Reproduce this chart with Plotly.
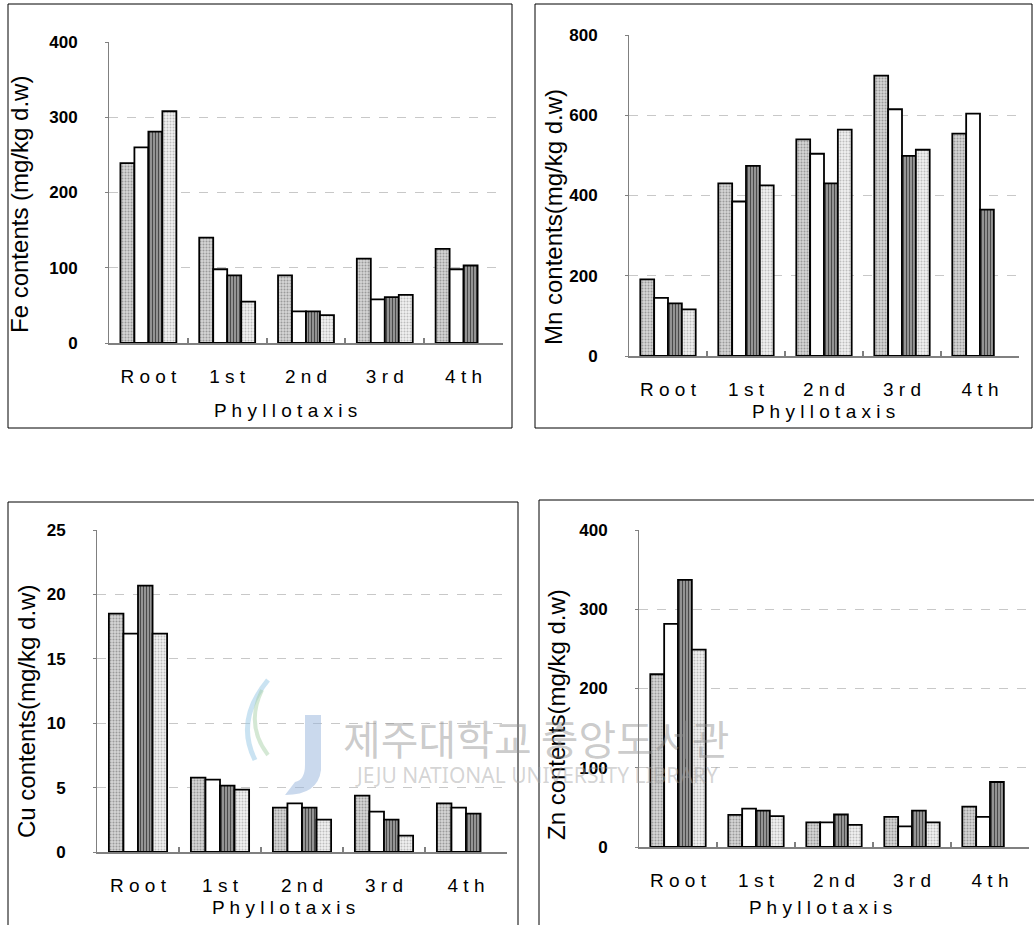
import plotly.graph_objects as go

# ---------------- data ----------------
categories = ["Root", "1st", "2nd", "3rd", "4th"]
series_names = ["S1", "S2", "S3", "S4"]

fe_s1 = [239, 140, 90, 112, 125]
fe_s2 = [260, 98, 42, 58, 98]
fe_s3 = [281, 90, 42, 61, 103]
fe_s4 = [308, 55, 37, 64, None]

mn_s1 = [191, 430, 540, 699, 554]
mn_s2 = [145, 385, 504, 615, 604]
mn_s3 = [131, 474, 430, 499, 365]
mn_s4 = [116, 425, 564, 514, None]

cu_s1 = [18.5, 5.77, 3.44, 4.37, 3.78]
cu_s2 = [16.95, 5.62, 3.78, 3.13, 3.44]
cu_s3 = [20.68, 5.15, 3.44, 2.51, 2.98]
cu_s4 = [16.95, 4.84, 2.51, 1.27, None]

zn_s1 = [218, 40.5, 31, 38, 51]
zn_s2 = [281.6, 48.5, 31, 26, 38]
zn_s3 = [337, 46, 41, 46, 82]
zn_s4 = [249, 39, 28, 31, None]

fe_ticks = [0, 100, 200, 300, 400]
mn_ticks = [0, 200, 400, 600, 800]
cu_ticks = [0, 5, 10, 15, 20, 25]
zn_ticks = [0, 100, 200, 300, 400]

y_titles = ["Fe contents (mg/kg d.w)", "Mn contents(mg/kg d.w)",
            "Cu contents(mg/kg d.w)", "Zn contents(mg/kg d.w)"]
x_title = "Phyllotaxis"

# ---------------- layout helpers ----------------
W, H = 1034, 925


def px(x):
    return x / W


def py(y):
    return 1 - y / H


FONT = "Liberation Sans, Arial, sans-serif"

styles = [
    dict(color="#cccccc", pattern=dict(shape=".", fgcolor="#9a9a9a", bgcolor="#d6d6d6", size=3, solidity=0.35)),
    dict(color="#ffffff"),
    dict(color="#8a8a8a", pattern=dict(shape="|", fgcolor="#4a4a4a", bgcolor="#a4a4a4", size=3, solidity=0.45)),
    dict(color="#ececec", pattern=dict(shape=".", fgcolor="#bdbdbd", bgcolor="#f2f2f2", size=3, solidity=0.35)),
]

panels = [
    dict(data=[fe_s1, fe_s2, fe_s3, fe_s4], ticks=fe_ticks, x0=109, x1=503, ytop=42, ybot=343,
         ytitle=(20, 205), xtitle=(285, 410), box=(8, 4, 512, 428)),
    dict(data=[mn_s1, mn_s2, mn_s3, mn_s4], ticks=mn_ticks, x0=629, x1=1019, ytop=35, ybot=356,
         ytitle=(553, 217), xtitle=(823, 411), box=(535, 4, 1032, 428)),
    dict(data=[cu_s1, cu_s2, cu_s3, cu_s4], ticks=cu_ticks, x0=97, x1=507, ytop=530, ybot=852,
         ytitle=(26, 712), xtitle=(283, 907), box=(8, 502, 518, 940)),
    dict(data=[zn_s1, zn_s2, zn_s3, zn_s4], ticks=zn_ticks, x0=639, x1=1029, ytop=530, ybot=847,
         ytitle=(556, 715), xtitle=(820, 907), box=(539, 500, 1045, 940)),
]

fig = go.Figure()
layout = dict(
    template="none",
    width=W, height=H, margin=dict(l=0, r=0, t=0, b=0, pad=0, autoexpand=False),
    paper_bgcolor="white", plot_bgcolor="white",
    showlegend=False, barmode="group", bargap=0.29, bargroupgap=0,
    font=dict(family=FONT, color="black"),
)
annotations = []
shapes = []

for i, p in enumerate(panels):
    n = i + 1
    xa = "x" if n == 1 else f"x{n}"
    ya = "y" if n == 1 else f"y{n}"
    for k, vals in enumerate(p["data"]):
        st = styles[k]
        marker = dict(color=st["color"], line=dict(color="black", width=1.8))
        if "pattern" in st:
            marker["pattern"] = st["pattern"]
        fig.add_trace(go.Bar(x=categories, y=vals, name=series_names[k], marker=marker,
                             xaxis=xa, yaxis=ya, hoverinfo="skip"))
    xkey = "xaxis" if n == 1 else f"xaxis{n}"
    ykey = "yaxis" if n == 1 else f"yaxis{n}"
    layout[xkey] = dict(
        domain=[px(p["x0"]), px(p["x1"])], anchor=ya, automargin=False,
        type="category", categoryorder="array", categoryarray=categories,
        tickvals=categories, ticktext=[" ".join(c) for c in categories],
        tickson="boundaries", ticks="inside", ticklen=5, tickcolor="#808080", tickwidth=2,
        showline=True, linecolor="#808080", linewidth=2,
        showgrid=False, zeroline=False,
        tickfont=dict(size=19, family=FONT, color="black"),
        ticklabelstandoff=15,
    )
    layout[ykey] = dict(
        domain=[py(p["ybot"]), py(p["ytop"])], anchor=xa, automargin=False,
        range=[0, p["ticks"][-1]], tickvals=p["ticks"],
        ticks="outside", ticklen=3, tickcolor="#808080", tickwidth=1,
        showline=True, linecolor="#808080", linewidth=1,
        showgrid=True, gridcolor="#c8c8c8", griddash="dash", gridwidth=1,
        zeroline=False,
        tickfont=dict(size=17, family=FONT, color="black", weight="bold"),
        ticklabelstandoff=24,
    )
    tx, ty = p["ytitle"]
    annotations.append(dict(text=y_titles[i], x=px(tx), y=py(ty), xref="paper", yref="paper",
                            textangle=-90, showarrow=False, xanchor="center", yanchor="middle",
                            font=dict(size=24, family=FONT, color="black")))
    ax_, ay_ = p["xtitle"]
    annotations.append(dict(text=" ".join(x_title), x=px(ax_), y=py(ay_), xref="paper", yref="paper",
                            showarrow=False, xanchor="center", yanchor="middle",
                            font=dict(size=19, family=FONT, color="black")))
    bx0, by0, bx1, by1 = p["box"]
    shapes.append(dict(type="rect", xref="paper", yref="paper",
                       x0=px(bx0), x1=px(bx1), y0=py(by1), y1=py(by0),
                       line=dict(color="black", width=1), fillcolor="rgba(0,0,0,0)", layer="above"))

# watermark (library stamp)
annotations.append(dict(text="제주대학교 중앙도서관", x=px(536), y=py(737), xref="paper", yref="paper",
                        showarrow=False, xanchor="center", yanchor="middle",
                        font=dict(size=41, family="Noto Sans CJK KR", color="rgba(140,140,140,0.45)")))
annotations.append(dict(text="JEJU NATIONAL UNIVERSITY LIBRARY", x=px(536), y=py(775), xref="paper", yref="paper",
                        showarrow=False, xanchor="center", yanchor="middle",
                        font=dict(size=21, family="Noto Sans", color="rgba(160,160,160,0.45)")))
# logo approximation
shapes.append(dict(type="path", xref="paper", yref="paper",
                   path=f"M {px(305)},{py(715)} L {px(321)},{py(715)} L {px(321)},{py(770)} "
                        f"Q {px(318)},{py(795)} {px(285)},{py(795)} L {px(295)},{py(782)} "
                        f"Q {px(305)},{py(780)} {px(305)},{py(765)} Z",
                   fillcolor="rgba(150,180,220,0.5)", line=dict(width=0), layer="above"))
shapes.append(dict(type="path", xref="paper", yref="paper",
                   path=f"M {px(268)},{py(680)} Q {px(235)},{py(720)} {px(255)},{py(760)}",
                   line=dict(color="rgba(150,200,230,0.5)", width=5), layer="above"))
shapes.append(dict(type="path", xref="paper", yref="paper",
                   path=f"M {px(262)},{py(690)} Q {px(245)},{py(725)} {px(268)},{py(755)}",
                   line=dict(color="rgba(170,210,170,0.5)", width=4), layer="above"))

layout["annotations"] = annotations
layout["shapes"] = shapes
fig.update_layout(**layout)
fig.write_html("out.html", config={"displayModeBar": False},
               post_script="document.body.style.margin='0px';document.body.style.overflow='hidden';")
